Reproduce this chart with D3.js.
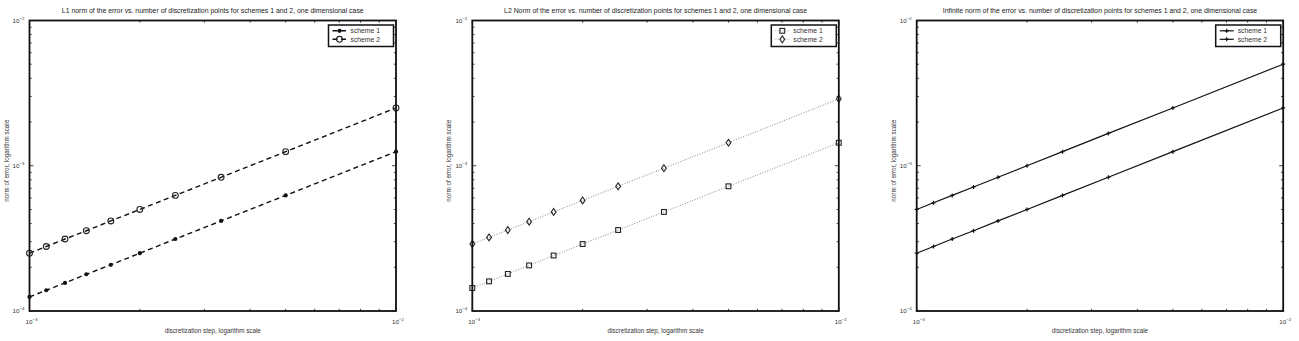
<!DOCTYPE html>
<html><head><meta charset="utf-8">
<script src="https://cdn.jsdelivr.net/npm/d3@7"></script>
<style>
html,body{margin:0;padding:0;background:#fff;}
svg{display:block;font-family:"Liberation Sans",Arial,sans-serif;}
</style></head>
<body><svg id="chart" width="1299" height="341"></svg>
<script>
// ---- data ----
const steps = [0.001, 0.001111, 0.00125, 0.001429, 0.001667, 0.002, 0.0025, 0.003333, 0.005, 0.01];
const l1Scheme1 = [1.25e-4, 1.39e-4, 1.56e-4, 1.79e-4, 2.08e-4, 2.5e-4, 3.13e-4, 4.17e-4, 6.25e-4, 1.25e-3];
const l1Scheme2 = [2.5e-4, 2.78e-4, 3.13e-4, 3.57e-4, 4.17e-4, 5e-4, 6.25e-4, 8.33e-4, 1.25e-3, 2.5e-3];
const l2Scheme1 = [1.44e-4, 1.60e-4, 1.80e-4, 2.06e-4, 2.41e-4, 2.89e-4, 3.61e-4, 4.81e-4, 7.22e-4, 1.44e-3];
const l2Scheme2 = [2.89e-4, 3.21e-4, 3.61e-4, 4.12e-4, 4.81e-4, 5.77e-4, 7.22e-4, 9.62e-4, 1.44e-3, 2.89e-3];
const infScheme1 = [2.5e-4, 2.78e-4, 3.13e-4, 3.57e-4, 4.17e-4, 5e-4, 6.25e-4, 8.33e-4, 1.25e-3, 2.5e-3];
const infScheme2 = [5e-4, 5.56e-4, 6.25e-4, 7.14e-4, 8.33e-4, 1e-3, 1.25e-3, 1.67e-3, 2.5e-3, 5e-3];
const seriesNames = ["scheme 1", "scheme 2"];
const titles = [
  "L1 norm of the error vs. number of discretization points for schemes 1 and 2, one dimensional case",
  "L2 Norm of the error vs. number of discretization points for schemes 1 and 2, one dimensional case",
  "Infinite norm of the error vs. number of discretization points for schemes 1 and 2, one dimensional case"
];
const xLabel = "discretization step, logarithm scale";
const yLabel = "norm of error, logarithm scale";
const xDomain = [1e-3, 1e-2];
const yDomain = [1e-4, 1e-2];
const xTickExps = ["-3", "-2"];
const yTickExps = ["-4", "-3", "-2"];

const panels = [
  {left: 29.5, title: titles[0], series: [l1Scheme1, l1Scheme2], dash: "5,3.5", lw: 1.4, color: "#111", markers: ["dot", "circle"], legendLine: true},
  {left: 472.3, title: titles[1], series: [l2Scheme1, l2Scheme2], dash: "1,1.6", lw: 0.9, color: "#777", markers: ["square", "diamond"], legendLine: false},
  {left: 916.7, title: titles[2], series: [infScheme1, infScheme2], dash: null, lw: 1.2, color: "#111", markers: ["plus", "plus"], legendLine: true}
];
const W = 366.5, plotTop = 20.5, plotBottom = 311;

const svg = d3.select("#chart");

function drawMarker(g, type, x, y) {
  if (type === "dot") {
    g.append("circle").attr("cx", x).attr("cy", y).attr("r", 2.1).attr("fill", "#111");
  } else if (type === "circle") {
    g.append("circle").attr("cx", x).attr("cy", y).attr("r", 2.9).attr("fill", "none").attr("stroke", "#222").attr("stroke-width", 1.1);
  } else if (type === "square") {
    g.append("rect").attr("x", x - 2.4).attr("y", y - 2.4).attr("width", 4.8).attr("height", 4.8).attr("fill", "none").attr("stroke", "#222").attr("stroke-width", 1.1);
  } else if (type === "diamond") {
    g.append("path").attr("d", `M${x},${y-3.4}L${x+2.4},${y}L${x},${y+3.4}L${x-2.4},${y}Z`).attr("fill", "none").attr("stroke", "#222").attr("stroke-width", 1.1);
  } else if (type === "plus") {
    g.append("path").attr("d", `M${x-2},${y}H${x+2}M${x},${y-2}V${y+2}`).attr("stroke", "#111").attr("stroke-width", 1.2);
  }
}

function powLabel(g, x, y, exp, anchor) {
  const t = g.append("text").attr("x", x).attr("y", y).attr("font-size", 6.2).attr("fill", "#333").attr("text-anchor", anchor);
  t.append("tspan").text("10");
  t.append("tspan").attr("dy", -3).attr("font-size", 4.4).text("\u2212" + exp.replace("-", ""));
}

panels.forEach(p => {
  const x = d3.scaleLog().domain(xDomain).range([p.left, p.left + W]);
  const y = d3.scaleLog().domain(yDomain).range([plotBottom, plotTop]);
  const g = svg.append("g");

  g.append("text").attr("x", p.left + W / 2).attr("y", 13).attr("text-anchor", "middle")
    .attr("font-size", 6.9).attr("fill", "#222").text(p.title);

  const xTicks = x.ticks();
  const yTicks = y.ticks();
  const isMajor = v => Math.abs(Math.log10(v) - Math.round(Math.log10(v))) < 1e-6;
  const tickG = g.append("g").attr("stroke", "#111").attr("stroke-width", 0.8);
  xTicks.forEach(v => {
    const len = isMajor(v) ? 4 : 2.2;
    tickG.append("line").attr("x1", x(v)).attr("x2", x(v)).attr("y1", plotBottom).attr("y2", plotBottom - len);
    tickG.append("line").attr("x1", x(v)).attr("x2", x(v)).attr("y1", plotTop).attr("y2", plotTop + len);
  });
  yTicks.forEach(v => {
    const len = isMajor(v) ? 4 : 2.2;
    tickG.append("line").attr("y1", y(v)).attr("y2", y(v)).attr("x1", p.left).attr("x2", p.left + len);
    tickG.append("line").attr("y1", y(v)).attr("y2", y(v)).attr("x1", p.left + W).attr("x2", p.left + W - len);
  });

  xTickExps.forEach((e, i) => powLabel(g, x(xDomain[i]) + 2, 323.5, e, "middle"));
  yTickExps.forEach((e, i) => powLabel(g, p.left - 5, y(Math.pow(10, +e)) + 2, e, "end"));

  g.append("text").attr("x", p.left + W / 2).attr("y", 333).attr("text-anchor", "middle")
    .attr("font-size", 6.3).attr("fill", "#333").text(xLabel);
  g.append("text").attr("transform", `translate(${p.left - 21},${(plotTop + plotBottom) / 2 - 5}) rotate(-90)`)
    .attr("text-anchor", "middle").attr("font-size", 6.3).attr("fill", "#333").text(yLabel);

  const line = d3.line().x((d, i) => x(steps[i])).y(d => y(d));
  p.series.forEach((s, k) => {
    g.append("path").datum(s).attr("d", line).attr("fill", "none")
      .attr("stroke", p.color).attr("stroke-width", p.lw)
      .attr("stroke-dasharray", p.dash);
    const mg = g.append("g");
    s.forEach((v, i) => drawMarker(mg, p.markers[k], x(steps[i]), y(v)));
  });

  g.append("rect").attr("x", p.left).attr("y", plotTop).attr("width", W).attr("height", plotBottom - plotTop)
    .attr("fill", "none").attr("stroke", "#111").attr("stroke-width", 1.8);

  const lw = 65, lh = 21.5;
  const lx = p.left + W - 2.5 - lw, ly = 25;
  const lg = g.append("g");
  lg.append("rect").attr("x", lx).attr("y", ly).attr("width", lw).attr("height", lh)
    .attr("fill", "#fff").attr("stroke", "#111").attr("stroke-width", 1.5);
  seriesNames.forEach((name, k) => {
    const yy = ly + 5.8 + k * 8.5;
    if (p.legendLine) {
      lg.append("line").attr("x1", lx + 4).attr("x2", lx + 18).attr("y1", yy).attr("y2", yy)
        .attr("stroke", p.color).attr("stroke-width", p.lw).attr("stroke-dasharray", p.dash);
    } else {
      lg.append("line").attr("x1", lx + 4).attr("x2", lx + 18).attr("y1", yy).attr("y2", yy)
        .attr("stroke", p.color).attr("stroke-width", 0.6).attr("stroke-dasharray", "1,1.6");
    }
    drawMarker(lg, p.markers[k], lx + 11, yy);
    lg.append("text").attr("x", lx + 22).attr("y", yy + 2.3).attr("font-size", 6.8).attr("fill", "#333").text(name);
  });
});
</script>
</body></html>
